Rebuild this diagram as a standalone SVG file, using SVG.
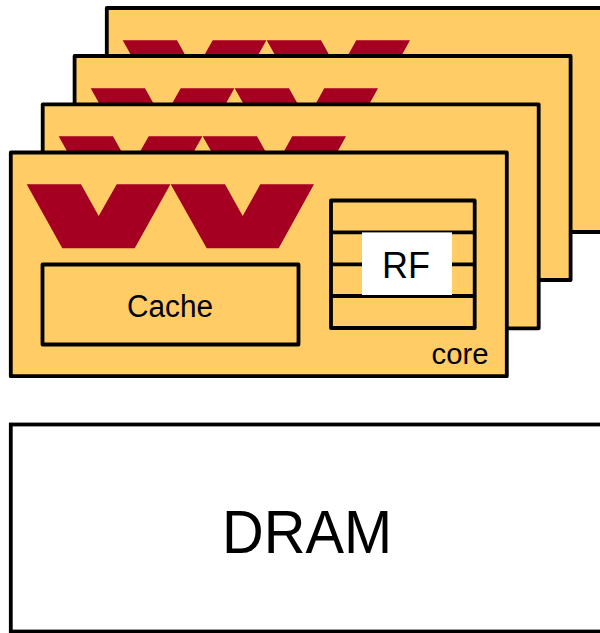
<svg xmlns="http://www.w3.org/2000/svg" width="600" height="633" viewBox="0 0 600 633">
<style>
.core{fill:#ffcc66;stroke:#000;stroke-width:3.8;stroke-linejoin:round}
.box{fill:none;stroke:#000;stroke-width:3.8;stroke-linejoin:round}
.v{fill:#a50021}
.t{font-family:"Liberation Sans",Arial,sans-serif;fill:#000}
</style>
<defs>
<g id="vv">
<polygon class="v" points="26.7,184.3 81,184.3 98.7,216 116.7,184.3 170.4,184.3 134.7,248.3 62.3,248.3"/>
<polygon class="v" points="170.7,184.3 225,184.3 242.7,216 260.3,184.3 314,184.3 278.7,248.3 206.7,248.3"/>
</g>
</defs>
<rect width="600" height="633" fill="#fff"/>
<g id="core-4"><rect class="core" x="106.8" y="8" width="496" height="224"/><use href="#vv" x="96" y="-144"/></g>
<g id="core-3"><rect class="core" x="74.6" y="56" width="496" height="224"/><use href="#vv" x="64" y="-96"/></g>
<g id="core-2"><rect class="core" x="42.7" y="104.3" width="496" height="224"/><use href="#vv" x="32" y="-48"/></g>
<g id="core-1"><rect class="core" x="10.8" y="152.5" width="496" height="223.7"/><use href="#vv"/>
<text class="t" x="431.5" y="363.5" font-size="29" textLength="57" lengthAdjust="spacingAndGlyphs">core</text></g>
<g id="cache"><rect class="box" x="42.5" y="264.5" width="256" height="80"/>
<text class="t" x="127" y="316.5" font-size="31" textLength="86" lengthAdjust="spacingAndGlyphs">Cache</text></g>
<g id="rf"><rect class="box" x="331" y="200.5" width="143.7" height="127.5"/>
<path class="box" d="M331 232.3H474.7M331 264.3H474.7M331 296H474.7"/>
<rect x="362" y="232.4" width="90" height="62.6" fill="#fff"/>
<text class="t" x="382" y="277.5" font-size="36">RF</text></g>
<g id="dram"><rect x="10.8" y="424.5" width="600" height="207" fill="#fff" stroke="#000" stroke-width="3.8"/>
<text class="t" x="222" y="553" font-size="62" textLength="170" lengthAdjust="spacingAndGlyphs">DRAM</text></g>
<g id="connectors"/>
</svg>
